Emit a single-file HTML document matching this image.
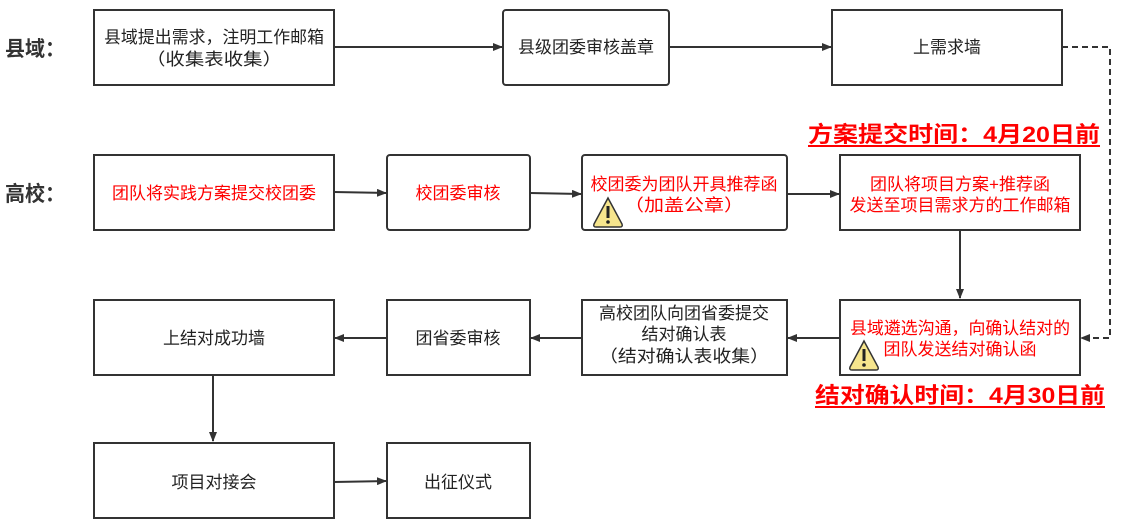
<!DOCTYPE html>
<html><head><meta charset="utf-8"><style>
body{margin:0;background:#fff}
svg text{font-family:"Liberation Sans","Noto Sans CJK SC",sans-serif;}
</style></head><body>
<svg width="1121" height="527" viewBox="0 0 1121 527" xmlns="http://www.w3.org/2000/svg">
<defs>
<marker id="a" markerWidth="10" markerHeight="8" refX="9" refY="4" orient="auto" markerUnits="userSpaceOnUse"><path d="M0,0 L10,4 L0,8 Z" fill="#333"/></marker>
<g id="warn"><path d="M15,2 L29,28 Q30,31 27,31 L3,31 Q0,31 1,28 Z" fill="#f6e58d" stroke="#333" stroke-width="1.5"/><rect x="13.5" y="10" width="3" height="12" fill="#222"/><circle cx="15" cy="26" r="1.8" fill="#222"/></g>
</defs>
<g fill="#fff" stroke="#333" stroke-width="2">
<rect x="94" y="10" width="240" height="75"/>
<rect x="503" y="10" width="166" height="75" rx="3"/>
<rect x="832" y="10" width="230" height="75"/>
<rect x="94" y="155" width="240" height="75"/>
<rect x="387" y="155" width="143" height="75" rx="3"/>
<rect x="582" y="155" width="205" height="75" rx="3"/>
<rect x="840" y="155" width="240" height="75"/>
<rect x="840" y="300" width="240" height="75"/>
<rect x="582" y="300" width="205" height="75"/>
<rect x="387" y="300" width="143" height="75"/>
<rect x="94" y="300" width="240" height="75"/>
<rect x="94" y="443" width="240" height="75"/>
<rect x="387" y="443" width="143" height="75"/>
</g>
<g stroke="#333" stroke-width="2" fill="none" marker-end="url(#a)">
<line x1="334" y1="47" x2="502" y2="47"/>
<line x1="669" y1="47" x2="831" y2="47"/>
<line x1="334" y1="192" x2="386" y2="193"/>
<line x1="530" y1="193" x2="581" y2="194"/>
<line x1="787" y1="194" x2="839" y2="194"/>
<line x1="960" y1="230" x2="960" y2="298"/>
<line x1="840" y1="338" x2="788" y2="338"/>
<line x1="582" y1="338" x2="531" y2="338"/>
<line x1="387" y1="338" x2="335" y2="338"/>
<line x1="213" y1="375" x2="213" y2="441"/>
<line x1="334" y1="482" x2="386" y2="481"/>
<path d="M1062,47 L1110,47 L1110,338 L1081,338" stroke-dasharray="6,4"/>
</g>
<g font-size="17" fill="#222" text-anchor="middle">
<text x="214" y="43" textLength="220" lengthAdjust="spacingAndGlyphs">县域提出需求，注明工作邮箱</text>
<text x="214" y="65" textLength="136" lengthAdjust="spacingAndGlyphs">（收集表收集）</text>
<text x="586" y="53">县级团委审核盖章</text>
<text x="947" y="53">上需求墙</text>
<text x="684" y="319">高校团队向团省委提交</text>
<text x="684" y="340">结对确认表</text>
<text x="684" y="362" textLength="170" lengthAdjust="spacingAndGlyphs">（结对确认表收集）</text>
<text x="458" y="344">团省委审核</text>
<text x="214" y="344">上结对成功墙</text>
<text x="214" y="488">项目对接会</text>
<text x="458" y="488">出征仪式</text>
</g>
<g font-size="17" fill="#f00" text-anchor="middle">
<text x="214" y="199">团队将实践方案提交校团委</text>
<text x="458" y="199">校团委审核</text>
<text x="684" y="190">校团委为团队开具推荐函</text>
<text x="684" y="211" textLength="120" lengthAdjust="spacingAndGlyphs">（加盖公章）</text>
<text x="960" y="190">团队将项目方案+推荐函</text>
<text x="960" y="211">发送至项目需求方的工作邮箱</text>
<text x="960" y="334" textLength="220" lengthAdjust="spacingAndGlyphs">县域遴选沟通，向确认结对的</text>
<text x="960" y="355">团队发送结对确认函</text>
</g>
<use href="#warn" x="593" y="196"/>
<use href="#warn" x="849" y="339"/>
<g font-weight="bold" fill="#333" font-size="21">
<text x="5" y="56" textLength="60" lengthAdjust="spacingAndGlyphs">县域：</text>
<text x="5" y="201" textLength="60" lengthAdjust="spacingAndGlyphs">高校：</text>
</g>
<g font-weight="bold" fill="#f00" font-size="22">
<text x="808" y="142" textLength="292" lengthAdjust="spacingAndGlyphs">方案提交时间：4月20日前</text>
<text x="815" y="403" textLength="290" lengthAdjust="spacingAndGlyphs">结对确认时间：4月30日前</text>
</g>
<line x1="808" y1="146" x2="1100" y2="146" stroke="#f00" stroke-width="2"/>
<line x1="815" y1="407" x2="1105" y2="407" stroke="#f00" stroke-width="2"/>
</svg>
</body></html>
